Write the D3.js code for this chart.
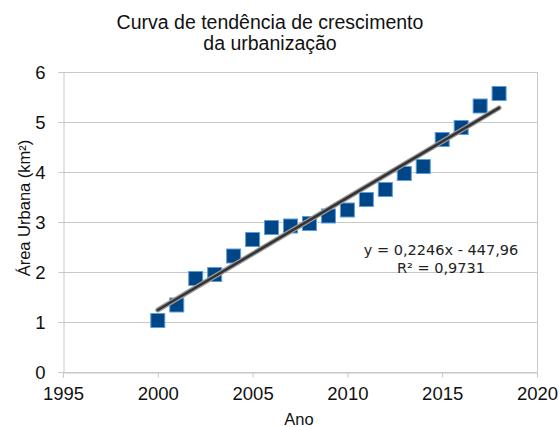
<!DOCTYPE html>
<html>
<head>
<meta charset="utf-8">
<script src="https://cdn.jsdelivr.net/npm/d3@7"></script>
<style>
  body { margin: 0; background: #fff; }
  svg text { font-family: "Liberation Sans", Arial, sans-serif; }
</style>
</head>
<body>
<div id="chart"></div>
<script>
var years = [2000, 2001, 2002, 2003, 2004, 2005, 2006, 2007, 2008, 2009,
             2010, 2011, 2012, 2013, 2014, 2015, 2016, 2017, 2018];
var area = [1.03, 1.34, 1.87, 1.95, 2.32, 2.65, 2.89, 2.92, 2.97, 3.12,
            3.24, 3.45, 3.65, 3.97, 4.11, 4.65, 4.89, 5.32, 5.57];
var xTicks = [1995, 2000, 2005, 2010, 2015, 2020];
var yTicks = [0, 1, 2, 3, 4, 5, 6];
var trendSlope = 0.2246;
var trendIntercept = -447.96;
var titleLines = ['Curva de tendência de crescimento', 'da urbanização'];
var eqLines = ['y = 0,2246x - 447,96', 'R² = 0,9731'];

var width = 559, height = 427;
var margin = { top: 72, right: 22, bottom: 55, left: 63 };
var w = width - margin.left - margin.right;
var h = height - margin.top - margin.bottom;

var svg = d3.select('#chart').append('svg')
    .attr('width', width)
    .attr('height', height);

var x = d3.scaleLinear().domain([1995, 2020]).range([0, w]);
var y = d3.scaleLinear().domain([0, 6]).range([h, 0]);

var g = svg.append('g')
    .attr('transform', 'translate(' + margin.left + ',' + margin.top + ')');

// grid
g.selectAll('.grid')
    .data(yTicks)
    .enter().append('line')
    .attr('x1', 0).attr('x2', w)
    .attr('y1', function (d) { return y(d) + 0.5; })
    .attr('y2', function (d) { return y(d) + 0.5; })
    .style('stroke', '#c8c8c8')
    .style('stroke-width', 1);

// right border
g.append('line')
    .attr('x1', w + 0.5).attr('x2', w + 0.5)
    .attr('y1', 0).attr('y2', h)
    .style('stroke', '#c8c8c8');

// axes
var xAxis = g.append('g')
    .attr('transform', 'translate(0,' + (h + 0.5) + ')')
    .call(d3.axisBottom(x).tickValues(xTicks).tickFormat(d3.format('d')).tickSize(5).tickPadding(9));
var yAxis = g.append('g')
    .attr('transform', 'translate(0.5,0)')
    .call(d3.axisLeft(y).tickValues(yTicks).tickFormat(d3.format('d')).tickSize(5).tickPadding(13));

[xAxis, yAxis].forEach(function (a) {
    a.select('.domain').style('stroke', '#c8c8c8');
    a.selectAll('.tick line').style('stroke', '#c8c8c8');
    a.selectAll('.tick text')
        .style('font-size', '18.5px')
        .style('fill', '#111')
        .style('font-family', '"Liberation Sans", Arial, sans-serif');
});
yAxis.selectAll('.tick text').attr('dy', '0.36em');

// points
var size = 14;
g.selectAll('.pt')
    .data(years)
    .enter().append('rect')
    .attr('class', 'pt')
    .attr('x', function (d) { return x(d) - size / 2; })
    .attr('y', function (d, i) { return y(area[i]) - size / 2; })
    .attr('width', size)
    .attr('height', size)
    .style('fill', '#004586')
    .style('stroke', '#5a9ddc')
    .style('stroke-width', 1);

// trend line
var x0 = d3.min(years), x1 = d3.max(years);
var trend = [x0, x1].map(function (v) { return [v, trendSlope * v + trendIntercept]; });
var line = d3.line()
    .x(function (d) { return x(d[0]); })
    .y(function (d) { return y(d[1]); });
g.append('path')
    .attr('d', line(trend))
    .style('stroke', '#9a9a9a')
    .style('stroke-width', 5)
    .style('stroke-linecap', 'round')
    .style('fill', 'none');
g.append('path')
    .attr('d', line(trend))
    .style('stroke', '#333')
    .style('stroke-width', 2.5)
    .style('stroke-linecap', 'round')
    .style('fill', 'none');

// equation
svg.selectAll('.eq')
    .data(eqLines)
    .enter().append('text')
    .attr('class', 'eq')
    .attr('x', 441)
    .attr('y', function (d, i) { return 255 + i * 17.5; })
    .attr('text-anchor', 'middle')
    .style('font-family', '"DejaVu Sans", sans-serif')
    .style('font-size', '14.5px')
    .style('fill', '#222')
    .text(function (d) { return d; });

// title
svg.selectAll('.title')
    .data(titleLines)
    .enter().append('text')
    .attr('x', 270)
    .attr('y', function (d, i) { return 29 + i * 21; })
    .attr('text-anchor', 'middle')
    .style('font-size', '19.5px')
    .style('fill', '#111')
    .text(function (d) { return d; });

// axis titles
svg.append('text')
    .attr('x', 299)
    .attr('y', 425)
    .attr('text-anchor', 'middle')
    .style('font-size', '16.5px')
    .style('fill', '#111')
    .text('Ano');

svg.append('text')
    .attr('transform', 'translate(30,208) rotate(-90)')
    .attr('text-anchor', 'middle')
    .style('font-size', '16.5px')
    .style('fill', '#111')
    .text('Área Urbana (km²)');
</script>
</body>
</html>
